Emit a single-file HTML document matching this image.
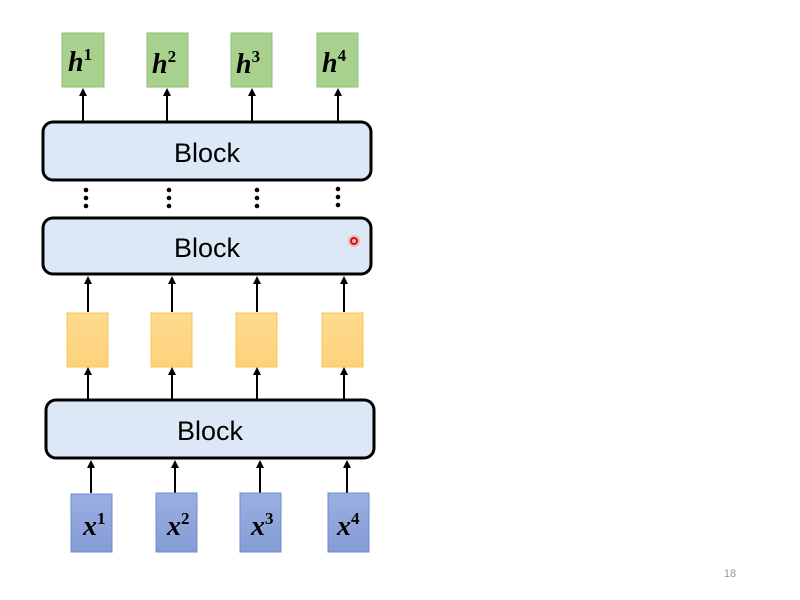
<!DOCTYPE html>
<html><head><meta charset="utf-8"><style>
html,body{margin:0;padding:0;background:#fff;}
svg{display:block;}
.blk{fill:#dce8f5;stroke:#000;stroke-width:3;}
.bt{font-family:"Liberation Sans",sans-serif;font-size:27px;fill:#000;text-anchor:middle;}
.mt{font-family:"Liberation Serif",serif;font-style:italic;font-weight:bold;font-size:28px;fill:#000;}
.sup{font-family:"Liberation Serif",serif;font-style:normal;font-weight:bold;font-size:17px;}
.ar{stroke:#000;stroke-width:2;fill:none;marker-end:url(#ah);}
</style></head><body>
<svg width="800" height="600" viewBox="0 0 800 600">
<defs>
<marker id="ah" markerWidth="8" markerHeight="8" refX="4" refY="4" orient="auto" markerUnits="userSpaceOnUse"><path d="M0,0 L8,4 L0,8 z" fill="#000"/></marker>
<linearGradient id="og" x1="0" y1="0" x2="0" y2="1"><stop offset="0" stop-color="#ffdb8f"/><stop offset="1" stop-color="#fdd27a"/></linearGradient>
<linearGradient id="bg" x1="0" y1="0" x2="0" y2="1"><stop offset="0" stop-color="#9aafe0"/><stop offset="1" stop-color="#859cd6"/></linearGradient>
</defs>
<rect width="800" height="600" fill="#fff"/>
<g>
<g><rect x="62" y="33" width="42" height="54" fill="#a9d18e" stroke="#8ec07a"/><text x="68" y="71" class="mt">h<tspan class="sup" dy="-11">1</tspan></text></g>
<g><rect x="147" y="33" width="41" height="54" fill="#a9d18e" stroke="#8ec07a"/><text x="152" y="73" class="mt">h<tspan class="sup" dy="-11">2</tspan></text></g>
<g><rect x="231" y="33" width="41" height="54" fill="#a9d18e" stroke="#8ec07a"/><text x="236" y="73" class="mt">h<tspan class="sup" dy="-11">3</tspan></text></g>
<g><rect x="317" y="33" width="41" height="54" fill="#a9d18e" stroke="#8ec07a"/><text x="322" y="72" class="mt">h<tspan class="sup" dy="-11">4</tspan></text></g>
</g>
<g>
<line x1="83" y1="121" x2="83" y2="92" class="ar"/><line x1="167" y1="121" x2="167" y2="92" class="ar"/><line x1="252" y1="121" x2="252" y2="92" class="ar"/><line x1="338" y1="121" x2="338" y2="92" class="ar"/>
</g>
<g><rect x="43" y="122" width="328" height="58" rx="10" class="blk"/><text x="207" y="162" class="bt">Block</text></g>
<g fill="#000">
<circle cx="86" cy="190" r="2.3"/><circle cx="86" cy="198" r="2.3"/><circle cx="86" cy="206" r="2.3"/>
<circle cx="169" cy="190" r="2.3"/><circle cx="169" cy="198" r="2.3"/><circle cx="169" cy="206" r="2.3"/>
<circle cx="257" cy="190" r="2.3"/><circle cx="257" cy="198" r="2.3"/><circle cx="257" cy="206" r="2.3"/>
<circle cx="338" cy="189" r="2.3"/><circle cx="338" cy="197" r="2.3"/><circle cx="338" cy="205" r="2.3"/>
</g>
<g><rect x="43" y="218" width="328" height="56" rx="10" class="blk"/><text x="207" y="257" class="bt">Block</text></g>
<g><circle cx="354" cy="241" r="6" fill="#f4a0a0" opacity="0.7"/><circle cx="354" cy="241" r="3" fill="none" stroke="#d00" stroke-width="1.8"/></g>
<g>
<line x1="88" y1="312" x2="88" y2="280" class="ar"/><line x1="172" y1="312" x2="172" y2="280" class="ar"/><line x1="257" y1="312" x2="257" y2="280" class="ar"/><line x1="344" y1="312" x2="344" y2="280" class="ar"/>
</g>
<g>
<rect x="67" y="313" width="41" height="54" fill="url(#og)" stroke="#f6c65a"/>
<rect x="151" y="313" width="41" height="54" fill="url(#og)" stroke="#f6c65a"/>
<rect x="236" y="313" width="41" height="54" fill="url(#og)" stroke="#f6c65a"/>
<rect x="322" y="313" width="41" height="54" fill="url(#og)" stroke="#f6c65a"/>
</g>
<g>
<line x1="88" y1="399" x2="88" y2="371" class="ar"/><line x1="172" y1="399" x2="172" y2="371" class="ar"/><line x1="257" y1="399" x2="257" y2="371" class="ar"/><line x1="344" y1="399" x2="344" y2="371" class="ar"/>
</g>
<g><rect x="46" y="400" width="328" height="58" rx="10" class="blk"/><text x="210" y="440" class="bt">Block</text></g>
<g>
<line x1="91" y1="493" x2="91" y2="464" class="ar"/><line x1="175" y1="493" x2="175" y2="464" class="ar"/><line x1="260" y1="493" x2="260" y2="464" class="ar"/><line x1="347" y1="493" x2="347" y2="464" class="ar"/>
</g>
<g>
<g><rect x="71" y="494" width="41" height="58" fill="url(#bg)" stroke="#6f8ccc"/><text x="83" y="535" class="mt">x<tspan class="sup" dy="-11">1</tspan></text></g>
<g><rect x="156" y="493" width="41" height="59" fill="url(#bg)" stroke="#6f8ccc"/><text x="167" y="535" class="mt">x<tspan class="sup" dy="-11">2</tspan></text></g>
<g><rect x="240" y="493" width="41" height="59" fill="url(#bg)" stroke="#6f8ccc"/><text x="251" y="535" class="mt">x<tspan class="sup" dy="-11">3</tspan></text></g>
<g><rect x="328" y="493" width="41" height="59" fill="url(#bg)" stroke="#6f8ccc"/><text x="337" y="535" class="mt">x<tspan class="sup" dy="-11">4</tspan></text></g>
</g>
<text x="730" y="577" font-family="Liberation Sans, sans-serif" font-size="11" fill="#999" text-anchor="middle">18</text>
</svg>
</body></html>
